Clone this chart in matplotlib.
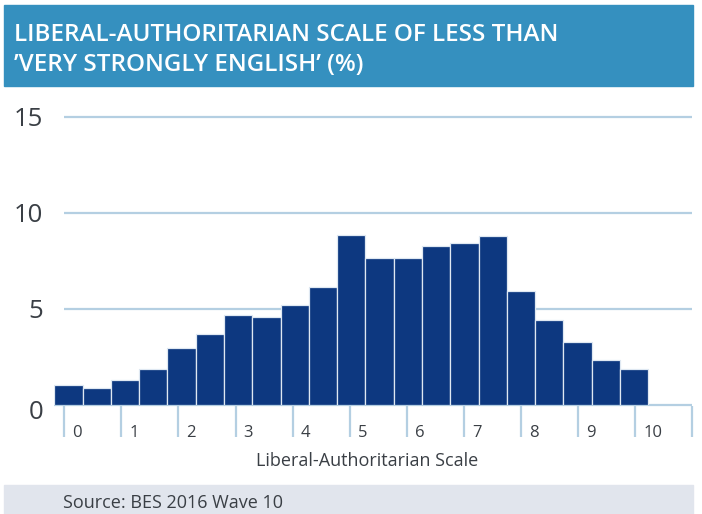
import numpy as np
import matplotlib.pyplot as plt
from matplotlib.patches import Rectangle
from matplotlib.transforms import ScaledTranslation

plt.rcParams['font.family'] = ['Open Sans', 'DejaVu Sans']

# 数据：自由-威权量表 (0-10, 步长0.5) 的百分比
values = [1.03, 0.89, 1.27, 1.88, 2.96, 3.70, 4.69, 4.58, 5.20, 6.12, 8.84,
          7.67, 7.63, 8.26, 8.44, 8.77, 5.94, 4.43, 3.28, 2.34, 1.88]
x_ticks = list(range(11))
y_ticks = [0, 5, 10, 15]
title_lines = ['LIBERAL-AUTHORITARIAN SCALE OF LESS THAN',
               '\u2019VERY STRONGLY ENGLISH\u2019 (%)']
x_label = 'Liberal-Authoritarian Scale'
source = 'Source: BES 2016 Wave 10'

navy = '#0d3880'
header_blue = '#3590bf'
grid_blue = '#b4cfe2'
text_gray = '#3a3f45'

W, H = 702, 514
fig = plt.figure(figsize=(W / 100, H / 100), dpi=100)

# 标题栏和底部来源栏
fig.patches.append(Rectangle((4 / W, 1 - 86 / H), 689 / W, 81 / H,
                             transform=fig.transFigure, color=header_blue, zorder=0))
fig.patches.append(Rectangle((4 / W, 0), 689 / W, 29 / H,
                             transform=fig.transFigure, color='#e1e5ed', zorder=0))
fig.text(14 / W, 1 - 41 / H, title_lines[0], color='white', fontsize=17.5,
         fontweight='semibold', va='baseline')
fig.text(14 / W, 1 - 71 / H, title_lines[1], color='white', fontsize=17.5,
         fontweight='semibold', va='baseline')
fig.text(63 / W, 1 - 508 / H, source, color=text_gray, fontsize=13, va='baseline')

# 坐标轴 (像素布局)
x0, x1 = -0.175, 11.0
ax_left, ax_right = 54.3, 692.4
y_top = 15.3
base_px = 404.7
px_per_unit = 19.18
ax_top_px = base_px - y_top * px_per_unit
ax = fig.add_axes([ax_left / W, (H - base_px) / H,
                   (ax_right - ax_left) / W, (base_px - ax_top_px) / H])
ax.set_xlim(x0, x1)
ax.set_ylim(0, y_top)
for s in ax.spines.values():
    s.set_visible(False)

ax.hlines(y_ticks[1:], 0, 11, color=grid_blue, lw=1.6, zorder=1)
ax.hlines(0, x0, 11, color=grid_blue, lw=1.6, zorder=1, clip_on=False)

bw = (11.0 - x0 - (692.4 - 648.3) / 57.1) / len(values)
lefts = x0 + np.arange(len(values)) * bw
ax.bar(lefts, values, width=bw, align='edge', color=navy,
       edgecolor='#dfe8f2', linewidth=0.9, zorder=2)

ax.set_yticks(y_ticks)
ax.set_yticklabels([str(v) for v in y_ticks], fontsize=18.5, color=text_gray)
ax.tick_params(axis='y', length=0, pad=8)
# "0" 标签在原图中略低
ax.get_yticklabels()[0].set_transform(
    ax.get_yaxis_text1_transform(8)[0] + ScaledTranslation(0, -5 / 100, fig.dpi_scale_trans))
ax.set_xticks([])

# 刻度线与刻度标签
ax.vlines(x_ticks + [11], -0.08, -1.66, color=grid_blue, lw=1.6, clip_on=False)
off = ScaledTranslation(8 / 100, 0, fig.dpi_scale_trans)
for t in x_ticks:
    ax.text(t, -1.66, str(t), fontsize=12, color=text_gray, ha='left', va='baseline',
            transform=ax.transData + off)
ax.text(0.5, 0, x_label, fontsize=13, color=text_gray, ha='center', va='baseline',
        transform=ax.transAxes + ScaledTranslation(-6 / 100, -61 / 100, fig.dpi_scale_trans))

fig.savefig('out.png', dpi=100)
